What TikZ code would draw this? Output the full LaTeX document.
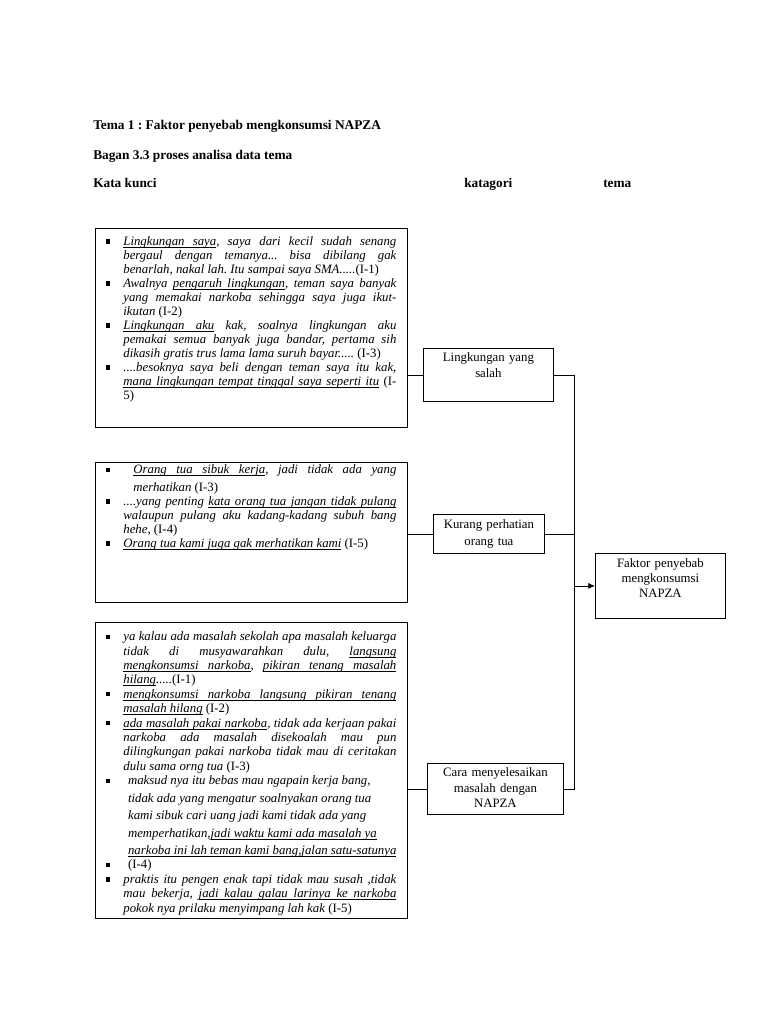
\documentclass[tikz,border=0pt]{standalone}
\usepackage{fontspec}
\setmainfont{Liberation Serif}
\usepackage{enumitem}
\usetikzlibrary{arrows.meta}

\newcommand{\kode}[1]{\textup{#1}}
% underline word by word, spaces stay stretchable
\newsavebox{\garisbox}
\newcommand{\garis}[1]{\leavevmode\sbox\garisbox{#1}\rlap{\rule[-1.6pt]{\wd\garisbox}{0.45pt}}\usebox\garisbox}
\newcommand{\garisspasi}{\leaders\hrule height -1.15pt depth 1.6pt\hskip\fontdimen2\font plus\fontdimen3\font minus\fontdimen4\font}
\makeatletter
\newcommand{\garisbawah}[1]{\leavevmode\garis@kata#1 \@nil}
\def\garis@kata#1 #2\@nil{\garis{#1}\if\relax\detokenize{#2}\relax\else\garisspasi\garis@kata#2\@nil\fi}
\makeatother
% full width of the box, no height
\newcommand{\lebarpenuh}{\hrule height 0pt width \hsize\relax}

\newlist{kutipan}{itemize}{1}
\setlist[kutipan]{label=\rule[1.3pt]{3.2pt}{3.2pt}, leftmargin=21pt, labelsep=9.75pt, labelwidth=3.25pt, align=left, rightmargin=8.25pt, itemsep=0pt, parsep=0pt, topsep=0pt, partopsep=0pt}
\hyphenpenalty=10000
\frenchspacing

\begin{document}
\begin{tikzpicture}[
    x=0.75pt, y=-0.75pt,
    judul/.style={anchor=base west, inner sep=0pt, font=\fontsize{10}{12}\selectfont\bfseries},
    kunci_box/.style={draw, line width=0.6pt, anchor=north west, inner sep=0pt, font=\fontsize{9.6}{10.5}\selectfont\itshape},
    katagori_box/.style={draw, line width=0.6pt, anchor=north west, inner sep=0pt, align=center},
    line/.style={line width=0.6pt},
    arrow/.style={-{Latex[length=5pt,width=4.5pt]}, line width=0.6pt}
]
    \useasboundingbox (0,0) rectangle (768,1024);

    % Headings
    \node[judul] (judul_tema) at (93,129) {Tema 1 : Faktor penyebab mengkonsumsi NAPZA};
    \node[judul] (judul_bagan) at (93,159) {Bagan 3.3 proses analisa data tema};
    \node[judul] (kolom_kunci) at (93,187) {Kata kunci};
    \node[judul] (kolom_katagori) at (464,187) {katagori};
    \node[judul] (kolom_tema) at (603,187) {tema};

    % Kata kunci
    \node[kunci_box] (kunci1) at (95,228) {\begin{minipage}[c][149.25pt][t]{234pt}\lebarpenuh\vspace*{6.1pt}
    \begin{kutipan}
        \item \garisbawah{Lingkungan saya}, saya dari kecil sudah senang\linebreak bergaul dengan temanya... bisa dibilang gak\linebreak benarlah, nakal lah. Itu sampai saya SMA.....\kode{(I-1)}
        \item Awalnya \garisbawah{pengaruh lingkungan}, teman saya banyak\linebreak yang memakai narkoba sehingga saya juga ikut-\linebreak ikutan \kode{(I-2)}
        \item \garisbawah{Lingkungan aku} kak, soalnya lingkungan aku\linebreak pemakai semua banyak juga bandar, pertama sih\linebreak dikasih gratis trus lama lama suruh bayar..... \kode{(I-3)}
        \item ....besoknya saya beli dengan teman saya itu kak,\linebreak \garisbawah{mana lingkungan tempat tinggal saya seperti itu} \kode{(I-\linebreak 5)}
    \end{kutipan}\end{minipage}};

    \node[kunci_box] (kunci2) at (95,462) {\begin{minipage}[c][105pt][t]{234pt}\lebarpenuh\vspace*{2pt}
    \begin{kutipan}
        \item \hspace*{7.5pt}\garisbawah{Orang tua sibuk kerja}, jadi tidak ada yang\vadjust{\vskip 2.6pt}\linebreak \hspace*{7.5pt}merhatikan \kode{(I-3)}
        \item ....yang penting \garisbawah{kata orang tua jangan tidak pulang}\linebreak walaupun pulang aku kadang-kadang subuh bang\linebreak hehe, \kode{(I-4)}
        \item \garisbawah{Orang tua kami juga gak merhatikan kami} \kode{(I-5)}
    \end{kutipan}\end{minipage}};

    \node[kunci_box, font=\fontsize{9.6}{10.8}\selectfont\itshape] (kunci3) at (95,622) {\begin{minipage}[c][222pt][t]{234pt}\lebarpenuh\vspace*{7pt}
    \begin{kutipan}
        \item ya kalau ada masalah sekolah apa masalah keluarga\linebreak tidak di musyawarahkan dulu, \garisbawah{langsung}\linebreak \garisbawah{mengkonsumsi narkoba}, \garisbawah{pikiran tenang masalah}\linebreak \garisbawah{hilang}.....\kode{(I-1)}
        \item \garisbawah{mengkonsumsi narkoba langsung pikiran tenang}\linebreak \garisbawah{masalah hilang} \kode{(I-2)}
        \item \garisbawah{ada masalah pakai narkoba}, tidak ada kerjaan pakai\linebreak narkoba ada masalah disekoalah mau pun\linebreak dilingkungan pakai narkoba tidak mau di ceritakan\linebreak dulu sama orng tua \kode{(I-3)}
        \item \hspace*{3.5pt}maksud nya itu bebas mau ngapain kerja bang,\\[2.3pt]
        \hspace*{3.5pt}tidak ada yang mengatur soalnyakan orang tua\\[2.3pt]
        \hspace*{3.5pt}kami sibuk cari uang jadi kami tidak ada yang\\[2.3pt]
        \hspace*{3.5pt}memperhatikan,\garisbawah{jadi waktu kami ada masalah ya}\\[2.3pt]
        \hspace*{3.5pt}\garisbawah{narkoba ini lah teman kami bang,jalan satu-satunya}
        \item \hspace*{3.5pt}\kode{(I-4)}
        \item praktis itu pengen enak tapi tidak mau susah ,tidak\linebreak mau bekerja, \garisbawah{jadi kalau galau larinya ke narkoba}\linebreak pokok nya prilaku menyimpang lah kak \kode{(I-5)}
    \end{kutipan}\end{minipage}};

    % Katagori
    \node[katagori_box, text width=97.5pt, text height=10.1pt, text depth=29.65pt, font=\fontsize{9.6}{12}\selectfont] (kat1) at (423,348) {Lingkungan yang\\salah};
    \node[katagori_box, text width=83.25pt, text height=10.9pt, text depth=18.35pt, font=\fontsize{9.6}{12.75}\selectfont] (kat2) at (433,514) {Kurang perhatian\\orang tua};
    \node[katagori_box, text width=102pt, text height=10.1pt, text depth=28.15pt, font=\fontsize{9.6}{11.6}\selectfont] (kat3) at (427,763) {Cara menyelesaikan\\masalah dengan\\NAPZA};

    % Tema
    \node[katagori_box, text width=97.5pt, text height=10.9pt, text depth=37.85pt, font=\fontsize{9.6}{10.9}\selectfont] (tema) at (595,553) {Faktor penyebab\\mengkonsumsi\\NAPZA};

    % Lines
    \path (kat3.east) ++(11,0) coordinate (sudut);
    \draw[line] (kat1.west -| kunci1.east) -- (kat1.west);
    \draw[line] (kat2.west -| kunci2.east) -- (kat2.west);
    \draw[line] (kat3.west -| kunci3.east) -- (kat3.west);
    \draw[line] (kat1.east) -| (sudut) -- (kat3.east);
    \draw[line] (kat2.east) -- (kat2.east -| sudut);
    \draw[arrow] (tema.west -| sudut) -- (tema.west);
\end{tikzpicture}
\end{document}
